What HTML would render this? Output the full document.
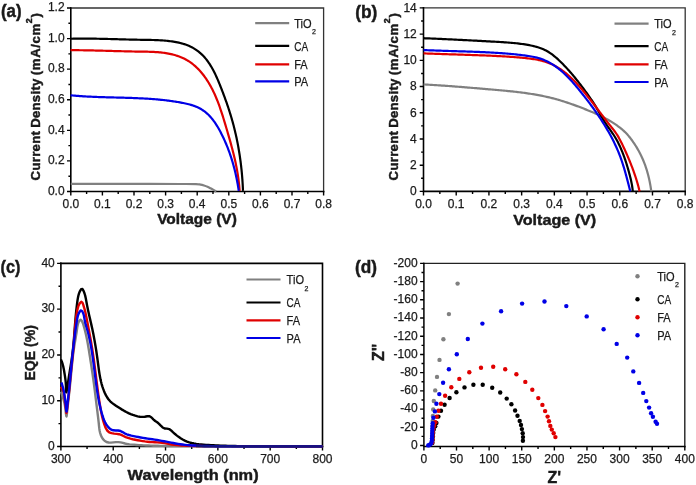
<!DOCTYPE html><html><head><meta charset="utf-8"><style>html,body{margin:0;padding:0;background:#fff;overflow:hidden;}svg{display:block;filter:blur(0.3px);}text{font-family:"Liberation Sans", sans-serif;fill:#1a1a1a;stroke:#1a1a1a;stroke-width:0.25px;}text[font-weight="bold"]{stroke-width:0.45px;}</style></head><body>
<svg width="696" height="485" viewBox="0 0 696 485">
<path d="M70.8,8.0 H323.6 V191.5" fill="none" stroke="#333" stroke-width="1.3" stroke-linecap="square"/>
<path d="M70.8,8.0 V191.5 H323.6" fill="none" stroke="#000" stroke-width="1.6" stroke-linecap="square"/>
<path d="M70.80,191.5 v4 M102.40,191.5 v4 M134.00,191.5 v4 M165.60,191.5 v4 M197.20,191.5 v4 M228.80,191.5 v4 M260.40,191.5 v4 M292.00,191.5 v4 M323.60,191.5 v4 M86.60,191.5 v2.6 M118.20,191.5 v2.6 M149.80,191.5 v2.6 M181.40,191.5 v2.6 M213.00,191.5 v2.6 M244.60,191.5 v2.6 M276.20,191.5 v2.6 M307.80,191.5 v2.6 M70.8,191.50 h-3.8 M70.8,160.92 h-3.8 M70.8,130.33 h-3.8 M70.8,99.75 h-3.8 M70.8,69.17 h-3.8 M70.8,38.58 h-3.8 M70.8,8.00 h-3.8 M70.8,176.21 h-2.4 M70.8,145.62 h-2.4 M70.8,115.04 h-2.4 M70.8,84.46 h-2.4 M70.8,53.88 h-2.4 M70.8,23.29 h-2.4 " fill="none" stroke="#000" stroke-width="1.4"/>
<text x="64.60" y="194.80" font-size="12" text-anchor="end" >0.0</text>
<text x="64.60" y="164.22" font-size="12" text-anchor="end" >0.2</text>
<text x="64.60" y="133.63" font-size="12" text-anchor="end" >0.4</text>
<text x="64.60" y="103.05" font-size="12" text-anchor="end" >0.6</text>
<text x="64.60" y="72.47" font-size="12" text-anchor="end" >0.8</text>
<text x="64.60" y="41.88" font-size="12" text-anchor="end" >1.0</text>
<text x="64.60" y="11.30" font-size="12" text-anchor="end" >1.2</text>
<text x="70.80" y="208.00" font-size="12" text-anchor="middle" >0.0</text>
<text x="102.40" y="208.00" font-size="12" text-anchor="middle" >0.1</text>
<text x="134.00" y="208.00" font-size="12" text-anchor="middle" >0.2</text>
<text x="165.60" y="208.00" font-size="12" text-anchor="middle" >0.3</text>
<text x="197.20" y="208.00" font-size="12" text-anchor="middle" >0.4</text>
<text x="228.80" y="208.00" font-size="12" text-anchor="middle" >0.5</text>
<text x="260.40" y="208.00" font-size="12" text-anchor="middle" >0.6</text>
<text x="292.00" y="208.00" font-size="12" text-anchor="middle" >0.7</text>
<text x="323.60" y="208.00" font-size="12" text-anchor="middle" >0.8</text>
<text x="1.00" y="17.40" font-size="18" text-anchor="start" font-weight="bold" textLength="20.6" lengthAdjust="spacingAndGlyphs">(a)</text>
<text x="197.00" y="224.10" font-size="15.5" text-anchor="middle" font-weight="bold" textLength="79.7" lengthAdjust="spacingAndGlyphs">Voltage (V)</text>
<text transform="translate(40.2,180.40) rotate(-90)" font-size="13.2" font-weight="bold" textLength="49.4" lengthAdjust="spacing">Current</text>
<text transform="translate(40.2,127.80) rotate(-90)" font-size="13.2" font-weight="bold" textLength="49.2" lengthAdjust="spacing">Density</text>
<text transform="translate(40.2,75.20) rotate(-90)" font-size="13.2" font-weight="bold" textLength="62.0" lengthAdjust="spacing">(mA/cm<tspan font-size="9" dy="-8.5">2</tspan><tspan dy="8.5">)</tspan></text>
<path d="M70.80,183.90 C77.33,183.90 96.80,183.90 110.00,183.90 C123.20,183.90 138.33,183.88 150.00,183.90 C161.67,183.92 172.33,183.97 180.00,184.00 C187.67,184.03 192.58,184.00 196.00,184.10 C199.42,184.20 199.17,184.37 200.50,184.60 C201.83,184.83 202.83,185.13 204.00,185.50 C205.17,185.87 206.42,186.33 207.50,186.80 C208.58,187.27 209.50,187.78 210.50,188.30 C211.50,188.82 212.53,189.37 213.50,189.90 C214.47,190.43 215.83,191.23 216.30,191.50" fill="none" stroke="#808080" stroke-width="2.2" stroke-linejoin="round"/>
<path d="M70.60,38.60 L71.93,38.74 L73.36,38.71 L74.79,38.69 L76.22,38.67 L77.64,38.65 L79.06,38.64 L80.48,38.63 L81.89,38.62 L83.31,38.62 L84.72,38.62 L86.13,38.62 L87.54,38.63 L88.95,38.64 L90.36,38.65 L91.76,38.66 L93.17,38.68 L94.57,38.70 L95.97,38.72 L97.37,38.74 L98.77,38.77 L100.17,38.79 L101.57,38.82 L102.96,38.85 L104.36,38.89 L105.76,38.92 L107.15,38.95 L108.55,38.99 L109.95,39.02 L111.34,39.06 L112.74,39.10 L114.13,39.14 L115.53,39.17 L116.92,39.21 L118.32,39.25 L119.72,39.29 L121.12,39.33 L122.51,39.37 L123.91,39.41 L125.31,39.44 L126.71,39.48 L128.12,39.52 L129.52,39.55 L130.92,39.59 L132.33,39.62 L133.73,39.65 L135.14,39.68 L136.55,39.71 L137.96,39.74 L139.38,39.76 L140.79,39.79 L142.21,39.81 L143.63,39.83 L145.05,39.85 L146.47,39.87 L147.89,39.90 L149.32,39.92 L150.74,39.95 L152.16,39.98 L153.59,40.02 L155.01,40.07 L156.43,40.12 L157.85,40.18 L159.27,40.25 L160.69,40.33 L162.10,40.42 L163.52,40.52 L164.93,40.64 L166.34,40.76 L167.75,40.91 L169.15,41.07 L170.55,41.24 L171.95,41.43 L173.34,41.64 L174.73,41.87 L176.11,42.12 L177.49,42.39 L178.86,42.68 L180.22,43.00 L181.57,43.35 L182.91,43.72 L184.23,44.12 L185.54,44.56 L186.83,45.02 L188.11,45.53 L189.37,46.06 L190.60,46.64 L191.82,47.25 L193.01,47.90 L194.18,48.59 L195.33,49.31 L196.45,50.07 L197.55,50.86 L198.63,51.69 L199.68,52.55 L200.70,53.44 L201.70,54.36 L202.68,55.31 L203.63,56.30 L204.55,57.31 L205.44,58.35 L206.31,59.41 L207.15,60.51 L207.97,61.62 L208.77,62.76 L209.55,63.92 L210.30,65.10 L211.04,66.30 L211.75,67.52 L212.45,68.76 L213.13,70.00 L213.80,71.27 L214.44,72.55 L215.07,73.83 L215.69,75.13 L216.30,76.44 L216.89,77.76 L217.47,79.08 L218.04,80.41 L218.60,81.74 L219.15,83.08 L219.69,84.41 L220.23,85.75 L220.76,87.09 L221.28,88.42 L221.80,89.75 L222.31,91.08 L222.82,92.41 L223.32,93.74 L223.82,95.06 L224.31,96.38 L224.79,97.71 L225.27,99.03 L225.75,100.35 L226.22,101.67 L226.68,102.98 L227.14,104.30 L227.59,105.62 L228.03,106.94 L228.47,108.26 L228.90,109.58 L229.33,110.90 L229.75,112.23 L230.17,113.55 L230.57,114.88 L230.98,116.21 L231.37,117.54 L231.76,118.87 L232.14,120.21 L232.52,121.55 L232.89,122.89 L233.25,124.23 L233.61,125.58 L233.96,126.94 L234.30,128.29 L234.64,129.65 L234.97,131.01 L235.29,132.38 L235.61,133.74 L235.92,135.12 L236.22,136.49 L236.52,137.86 L236.81,139.24 L237.09,140.62 L237.37,142.00 L237.64,143.39 L237.90,144.77 L238.16,146.16 L238.41,147.55 L238.65,148.94 L238.89,150.34 L239.12,151.73 L239.35,153.12 L239.56,154.52 L239.78,155.92 L239.98,157.32 L240.18,158.72 L240.37,160.11 L240.56,161.51 L240.74,162.92 L240.91,164.32 L241.07,165.72 L241.23,167.12 L241.39,168.52 L241.54,169.92 L241.68,171.32 L241.81,172.72 L241.94,174.12 L242.06,175.52 L242.18,176.92 L242.28,178.31 L242.39,179.71 L242.48,181.11 L242.57,182.50 L242.66,183.89 L242.73,185.28 L242.80,186.67 L242.87,188.06 L242.93,189.45 L243.00,190.90" fill="none" stroke="#000" stroke-width="2.2" stroke-linejoin="round"/>
<path d="M70.60,50.10 L71.85,50.19 L73.19,50.19 L74.53,50.20 L75.88,50.20 L77.21,50.21 L78.55,50.22 L79.88,50.24 L81.21,50.25 L82.54,50.27 L83.87,50.29 L85.20,50.31 L86.52,50.33 L87.85,50.35 L89.17,50.38 L90.49,50.41 L91.81,50.43 L93.12,50.46 L94.44,50.49 L95.76,50.53 L97.07,50.56 L98.38,50.59 L99.70,50.62 L101.01,50.66 L102.32,50.69 L103.63,50.73 L104.94,50.77 L106.25,50.80 L107.56,50.84 L108.87,50.88 L110.18,50.91 L111.50,50.95 L112.81,50.99 L114.12,51.03 L115.43,51.06 L116.74,51.10 L118.05,51.13 L119.37,51.17 L120.68,51.21 L121.99,51.24 L123.31,51.27 L124.63,51.31 L125.95,51.34 L127.26,51.37 L128.58,51.40 L129.91,51.43 L131.23,51.46 L132.56,51.48 L133.88,51.51 L135.21,51.53 L136.54,51.56 L137.87,51.58 L139.21,51.59 L140.54,51.61 L141.88,51.63 L143.22,51.65 L144.56,51.67 L145.90,51.69 L147.24,51.72 L148.58,51.75 L149.92,51.79 L151.26,51.84 L152.60,51.89 L153.94,51.96 L155.27,52.03 L156.60,52.12 L157.93,52.21 L159.26,52.32 L160.58,52.45 L161.90,52.59 L163.21,52.74 L164.52,52.92 L165.83,53.11 L167.13,53.32 L168.42,53.56 L169.71,53.81 L170.99,54.09 L172.27,54.39 L173.54,54.71 L174.80,55.06 L176.06,55.44 L177.30,55.84 L178.54,56.27 L179.76,56.73 L180.97,57.22 L182.17,57.73 L183.36,58.28 L184.53,58.85 L185.69,59.45 L186.82,60.08 L187.94,60.74 L189.04,61.44 L190.13,62.16 L191.19,62.91 L192.23,63.69 L193.25,64.50 L194.25,65.33 L195.23,66.19 L196.19,67.07 L197.13,67.97 L198.05,68.89 L198.95,69.83 L199.83,70.78 L200.70,71.75 L201.54,72.73 L202.36,73.73 L203.17,74.75 L203.96,75.78 L204.73,76.82 L205.49,77.87 L206.22,78.94 L206.94,80.02 L207.65,81.12 L208.34,82.22 L209.01,83.34 L209.67,84.47 L210.32,85.61 L210.95,86.75 L211.57,87.91 L212.17,89.08 L212.77,90.26 L213.34,91.45 L213.91,92.64 L214.47,93.84 L215.01,95.06 L215.54,96.27 L216.06,97.50 L216.57,98.73 L217.08,99.97 L217.57,101.21 L218.05,102.46 L218.52,103.71 L218.99,104.97 L219.45,106.24 L219.90,107.50 L220.34,108.77 L220.77,110.05 L221.20,111.32 L221.62,112.60 L222.04,113.88 L222.45,115.16 L222.86,116.45 L223.26,117.73 L223.65,119.02 L224.05,120.30 L224.44,121.59 L224.82,122.87 L225.20,124.15 L225.58,125.43 L225.96,126.71 L226.34,127.99 L226.71,129.27 L227.09,130.54 L227.46,131.81 L227.83,133.07 L228.20,134.34 L228.57,135.60 L228.93,136.86 L229.29,138.12 L229.65,139.38 L230.01,140.64 L230.36,141.90 L230.71,143.16 L231.06,144.41 L231.40,145.67 L231.74,146.93 L232.08,148.18 L232.41,149.44 L232.73,150.70 L233.06,151.96 L233.37,153.22 L233.69,154.48 L233.99,155.74 L234.29,157.00 L234.59,158.27 L234.88,159.54 L235.17,160.81 L235.44,162.08 L235.72,163.36 L235.98,164.64 L236.24,165.92 L236.49,167.21 L236.74,168.50 L236.98,169.79 L237.21,171.09 L237.43,172.39 L237.64,173.70 L237.85,175.01 L238.05,176.33 L238.24,177.65 L238.42,178.98 L238.59,180.31 L238.76,181.65 L238.91,183.00 L239.05,184.35 L239.19,185.70 L239.31,187.07 L239.43,188.44 L239.53,189.82 L240.00,190.90" fill="none" stroke="#e00000" stroke-width="2.2" stroke-linejoin="round"/>
<path d="M70.60,95.70 L71.82,95.40 L72.94,95.50 L74.05,95.60 L75.16,95.70 L76.28,95.79 L77.40,95.88 L78.52,95.97 L79.63,96.05 L80.75,96.13 L81.87,96.21 L82.99,96.28 L84.11,96.35 L85.23,96.41 L86.36,96.48 L87.48,96.54 L88.60,96.60 L89.73,96.66 L90.85,96.71 L91.98,96.76 L93.10,96.81 L94.23,96.86 L95.35,96.90 L96.48,96.95 L97.61,96.99 L98.73,97.03 L99.86,97.07 L100.99,97.11 L102.12,97.14 L103.25,97.18 L104.38,97.21 L105.51,97.24 L106.64,97.28 L107.77,97.31 L108.90,97.34 L110.03,97.37 L111.16,97.40 L112.29,97.43 L113.42,97.45 L114.55,97.48 L115.69,97.51 L116.82,97.54 L117.95,97.57 L119.08,97.60 L120.21,97.63 L121.35,97.66 L122.48,97.69 L123.61,97.72 L124.74,97.75 L125.88,97.78 L127.01,97.81 L128.14,97.85 L129.27,97.89 L130.40,97.92 L131.54,97.96 L132.67,98.00 L133.80,98.04 L134.93,98.09 L136.06,98.13 L137.19,98.18 L138.33,98.23 L139.46,98.28 L140.59,98.33 L141.72,98.39 L142.85,98.44 L143.98,98.50 L145.11,98.57 L146.24,98.63 L147.36,98.70 L148.49,98.77 L149.62,98.85 L150.75,98.93 L151.88,99.01 L153.00,99.09 L154.13,99.18 L155.26,99.27 L156.38,99.37 L157.51,99.47 L158.63,99.57 L159.75,99.68 L160.88,99.79 L162.00,99.90 L163.12,100.02 L164.24,100.15 L165.37,100.27 L166.49,100.41 L167.61,100.54 L168.72,100.69 L169.84,100.83 L170.96,100.99 L172.08,101.14 L173.19,101.31 L174.31,101.48 L175.42,101.65 L176.54,101.83 L177.65,102.01 L178.76,102.20 L179.87,102.40 L180.99,102.60 L182.09,102.81 L183.20,103.03 L184.31,103.25 L185.41,103.48 L186.51,103.73 L187.61,103.98 L188.69,104.25 L189.77,104.54 L190.85,104.84 L191.91,105.16 L192.97,105.50 L194.01,105.86 L195.05,106.24 L196.07,106.64 L197.07,107.07 L198.07,107.53 L199.04,108.01 L200.01,108.52 L200.95,109.06 L201.88,109.63 L202.79,110.22 L203.69,110.84 L204.57,111.48 L205.43,112.15 L206.28,112.85 L207.11,113.57 L207.92,114.31 L208.71,115.08 L209.49,115.87 L210.25,116.68 L210.99,117.52 L211.71,118.37 L212.42,119.25 L213.12,120.14 L213.80,121.05 L214.46,121.97 L215.12,122.91 L215.75,123.86 L216.38,124.83 L216.99,125.80 L217.59,126.79 L218.18,127.78 L218.75,128.79 L219.32,129.80 L219.87,130.82 L220.41,131.84 L220.95,132.87 L221.47,133.90 L221.99,134.93 L222.50,135.96 L223.00,137.00 L223.49,138.03 L223.97,139.07 L224.44,140.11 L224.91,141.15 L225.37,142.19 L225.82,143.23 L226.26,144.28 L226.69,145.32 L227.12,146.37 L227.54,147.42 L227.95,148.47 L228.35,149.52 L228.74,150.58 L229.13,151.63 L229.51,152.69 L229.89,153.75 L230.25,154.81 L230.61,155.87 L230.96,156.93 L231.31,158.00 L231.65,159.07 L231.98,160.13 L232.30,161.21 L232.62,162.28 L232.93,163.35 L233.23,164.43 L233.53,165.51 L233.82,166.59 L234.11,167.67 L234.39,168.76 L234.66,169.84 L234.93,170.93 L235.19,172.02 L235.44,173.11 L235.69,174.21 L235.93,175.31 L236.17,176.41 L236.40,177.51 L236.63,178.61 L236.85,179.72 L237.06,180.82 L237.27,181.94 L237.48,183.05 L237.68,184.16 L237.87,185.28 L238.06,186.40 L238.24,187.52 L238.42,188.65 L238.60,189.78 L238.70,190.90" fill="none" stroke="#0000e6" stroke-width="2.2" stroke-linejoin="round"/>
<line x1="255.2" y1="23.2" x2="289.2" y2="23.2" stroke="#808080" stroke-width="2.2"/>
<text x="294.2" y="27.90" font-size="12.4" textLength="17.4" lengthAdjust="spacingAndGlyphs">TiO</text>
<text x="312.00" y="34.20" font-size="7">2</text>
<line x1="255.2" y1="45.8" x2="289.2" y2="45.8" stroke="#000" stroke-width="2.2"/>
<text x="294.2" y="50.50" font-size="12.4" textLength="13.9" lengthAdjust="spacingAndGlyphs">CA</text>
<line x1="255.2" y1="64.4" x2="289.2" y2="64.4" stroke="#e00000" stroke-width="2.2"/>
<text x="294.2" y="69.10" font-size="12.4" textLength="13.5" lengthAdjust="spacingAndGlyphs">FA</text>
<line x1="255.2" y1="81.4" x2="289.2" y2="81.4" stroke="#0000e6" stroke-width="2.2"/>
<text x="294.2" y="86.10" font-size="12.4" textLength="13.9" lengthAdjust="spacingAndGlyphs">PA</text>
<path d="M423.5,7.9 H685.2 V191.4" fill="none" stroke="#333" stroke-width="1.3" stroke-linecap="square"/>
<path d="M423.5,7.9 V191.4 H685.2" fill="none" stroke="#000" stroke-width="1.6" stroke-linecap="square"/>
<path d="M423.50,191.4 v4 M456.21,191.4 v4 M488.93,191.4 v4 M521.64,191.4 v4 M554.35,191.4 v4 M587.06,191.4 v4 M619.78,191.4 v4 M652.49,191.4 v4 M685.20,191.4 v4 M439.86,191.4 v2.6 M472.57,191.4 v2.6 M505.28,191.4 v2.6 M537.99,191.4 v2.6 M570.71,191.4 v2.6 M603.42,191.4 v2.6 M636.13,191.4 v2.6 M668.84,191.4 v2.6 M423.5,191.40 h-3.8 M423.5,165.19 h-3.8 M423.5,138.97 h-3.8 M423.5,112.76 h-3.8 M423.5,86.54 h-3.8 M423.5,60.33 h-3.8 M423.5,34.11 h-3.8 M423.5,7.90 h-3.8 M423.5,178.29 h-2.4 M423.5,152.08 h-2.4 M423.5,125.86 h-2.4 M423.5,99.65 h-2.4 M423.5,73.44 h-2.4 M423.5,47.22 h-2.4 M423.5,21.01 h-2.4 " fill="none" stroke="#000" stroke-width="1.4"/>
<text x="416.80" y="195.20" font-size="12" text-anchor="end" >0</text>
<text x="416.80" y="168.99" font-size="12" text-anchor="end" >2</text>
<text x="416.80" y="142.77" font-size="12" text-anchor="end" >4</text>
<text x="416.80" y="116.56" font-size="12" text-anchor="end" >6</text>
<text x="416.80" y="90.34" font-size="12" text-anchor="end" >8</text>
<text x="416.80" y="64.13" font-size="12" text-anchor="end" >10</text>
<text x="416.80" y="37.91" font-size="12" text-anchor="end" >12</text>
<text x="416.80" y="11.70" font-size="12" text-anchor="end" >14</text>
<text x="423.50" y="208.00" font-size="12" text-anchor="middle" >0.0</text>
<text x="456.21" y="208.00" font-size="12" text-anchor="middle" >0.1</text>
<text x="488.93" y="208.00" font-size="12" text-anchor="middle" >0.2</text>
<text x="521.64" y="208.00" font-size="12" text-anchor="middle" >0.3</text>
<text x="554.35" y="208.00" font-size="12" text-anchor="middle" >0.4</text>
<text x="587.06" y="208.00" font-size="12" text-anchor="middle" >0.5</text>
<text x="619.78" y="208.00" font-size="12" text-anchor="middle" >0.6</text>
<text x="652.49" y="208.00" font-size="12" text-anchor="middle" >0.7</text>
<text x="685.20" y="208.00" font-size="12" text-anchor="middle" >0.8</text>
<text x="355.20" y="17.80" font-size="18" text-anchor="start" font-weight="bold" textLength="22.2" lengthAdjust="spacingAndGlyphs">(b)</text>
<text x="554.70" y="225.20" font-size="15.5" text-anchor="middle" font-weight="bold" textLength="83" lengthAdjust="spacingAndGlyphs">Voltage (V)</text>
<text transform="translate(398.0,180.40) rotate(-90)" font-size="13.2" font-weight="bold" textLength="49.4" lengthAdjust="spacing">Current</text>
<text transform="translate(398.0,127.80) rotate(-90)" font-size="13.2" font-weight="bold" textLength="49.2" lengthAdjust="spacing">Density</text>
<text transform="translate(398.0,75.20) rotate(-90)" font-size="13.2" font-weight="bold" textLength="62.0" lengthAdjust="spacing">(mA/cm<tspan font-size="9" dy="-8.5">2</tspan><tspan dy="8.5">)</tspan></text>
<path d="M423.60,84.40 L424.97,84.52 L426.36,84.59 L427.76,84.67 L429.15,84.75 L430.54,84.83 L431.93,84.91 L433.32,85.00 L434.71,85.08 L436.10,85.17 L437.49,85.26 L438.87,85.35 L440.26,85.44 L441.65,85.53 L443.04,85.63 L444.42,85.72 L445.81,85.82 L447.20,85.92 L448.58,86.02 L449.97,86.12 L451.35,86.22 L452.74,86.33 L454.12,86.43 L455.51,86.54 L456.89,86.64 L458.28,86.75 L459.66,86.86 L461.04,86.97 L462.43,87.08 L463.81,87.19 L465.20,87.30 L466.58,87.41 L467.96,87.53 L469.35,87.64 L470.73,87.75 L472.11,87.87 L473.50,87.98 L474.88,88.10 L476.27,88.22 L477.65,88.33 L479.04,88.45 L480.42,88.57 L481.80,88.69 L483.19,88.81 L484.57,88.92 L485.96,89.04 L487.34,89.16 L488.73,89.28 L490.12,89.40 L491.50,89.52 L492.89,89.64 L494.28,89.76 L495.66,89.88 L497.05,90.00 L498.44,90.13 L499.82,90.25 L501.21,90.38 L502.60,90.50 L503.98,90.63 L505.37,90.77 L506.76,90.90 L508.14,91.04 L509.53,91.18 L510.91,91.32 L512.30,91.46 L513.68,91.61 L515.06,91.77 L516.45,91.92 L517.83,92.09 L519.21,92.25 L520.59,92.42 L521.97,92.60 L523.35,92.78 L524.72,92.96 L526.10,93.15 L527.48,93.35 L528.85,93.55 L530.22,93.76 L531.59,93.97 L532.96,94.20 L534.33,94.42 L535.70,94.66 L537.06,94.90 L538.43,95.15 L539.79,95.41 L541.15,95.67 L542.51,95.94 L543.86,96.23 L545.22,96.51 L546.57,96.81 L547.92,97.12 L549.27,97.44 L550.62,97.76 L551.96,98.10 L553.31,98.44 L554.65,98.80 L555.99,99.16 L557.32,99.54 L558.66,99.92 L559.99,100.31 L561.32,100.71 L562.64,101.12 L563.97,101.54 L565.29,101.96 L566.62,102.40 L567.93,102.84 L569.25,103.28 L570.57,103.74 L571.88,104.20 L573.19,104.66 L574.50,105.14 L575.81,105.62 L577.12,106.10 L578.42,106.59 L579.73,107.08 L581.03,107.58 L582.33,108.09 L583.63,108.60 L584.93,109.11 L586.22,109.63 L587.51,110.15 L588.80,110.67 L590.09,111.21 L591.38,111.74 L592.66,112.29 L593.94,112.84 L595.21,113.40 L596.48,113.97 L597.74,114.54 L599.00,115.13 L600.25,115.73 L601.50,116.34 L602.74,116.95 L603.97,117.58 L605.20,118.23 L606.42,118.88 L607.63,119.55 L608.83,120.23 L610.03,120.93 L611.21,121.64 L612.38,122.37 L613.55,123.12 L614.70,123.88 L615.85,124.66 L616.98,125.45 L618.10,126.27 L619.21,127.10 L620.31,127.95 L621.39,128.83 L622.46,129.72 L623.50,130.64 L624.52,131.59 L625.52,132.56 L626.48,133.56 L627.42,134.58 L628.33,135.63 L629.22,136.70 L630.08,137.79 L630.92,138.89 L631.75,140.01 L632.56,141.13 L633.36,142.27 L634.14,143.43 L634.91,144.59 L635.66,145.76 L636.39,146.94 L637.10,148.13 L637.80,149.33 L638.49,150.54 L639.15,151.76 L639.80,152.99 L640.43,154.23 L641.04,155.48 L641.64,156.73 L642.22,158.00 L642.78,159.27 L643.32,160.54 L643.85,161.83 L644.35,163.12 L644.84,164.42 L645.32,165.73 L645.77,167.04 L646.21,168.36 L646.63,169.68 L647.04,171.01 L647.42,172.35 L647.80,173.68 L648.15,175.03 L648.50,176.38 L648.82,177.73 L649.13,179.08 L649.43,180.44 L649.71,181.80 L649.98,183.17 L650.23,184.54 L650.47,185.91 L650.69,187.28 L650.90,188.65 L651.10,190.02 L651.30,191.40" fill="none" stroke="#808080" stroke-width="2.2" stroke-linejoin="round"/>
<path d="M423.60,38.20 L425.07,38.28 L426.54,38.34 L428.01,38.40 L429.48,38.46 L430.95,38.52 L432.42,38.58 L433.89,38.64 L435.36,38.70 L436.83,38.77 L438.30,38.83 L439.78,38.90 L441.25,38.96 L442.72,39.03 L444.19,39.10 L445.66,39.16 L447.13,39.23 L448.60,39.30 L450.07,39.37 L451.54,39.44 L453.01,39.51 L454.48,39.59 L455.95,39.66 L457.42,39.73 L458.89,39.80 L460.36,39.88 L461.84,39.95 L463.31,40.03 L464.78,40.10 L466.25,40.18 L467.72,40.26 L469.19,40.33 L470.66,40.41 L472.13,40.49 L473.60,40.57 L475.07,40.65 L476.54,40.72 L478.01,40.80 L479.48,40.88 L480.95,40.96 L482.42,41.04 L483.89,41.12 L485.36,41.20 L486.83,41.28 L488.30,41.36 L489.77,41.45 L491.24,41.53 L492.71,41.61 L494.17,41.69 L495.64,41.77 L497.11,41.85 L498.58,41.94 L500.05,42.02 L501.52,42.11 L502.98,42.20 L504.45,42.30 L505.92,42.40 L507.39,42.50 L508.85,42.61 L510.32,42.73 L511.78,42.86 L513.25,42.99 L514.71,43.13 L516.17,43.28 L517.64,43.45 L519.10,43.62 L520.56,43.80 L522.02,44.00 L523.48,44.21 L524.94,44.43 L526.40,44.67 L527.85,44.92 L529.31,45.19 L530.76,45.48 L532.21,45.79 L533.66,46.11 L535.09,46.47 L536.52,46.85 L537.93,47.26 L539.33,47.71 L540.72,48.19 L542.08,48.72 L543.42,49.29 L544.74,49.90 L546.03,50.56 L547.30,51.26 L548.55,52.01 L549.77,52.80 L550.97,53.62 L552.16,54.48 L553.32,55.37 L554.46,56.29 L555.59,57.23 L556.70,58.20 L557.80,59.19 L558.89,60.19 L559.96,61.22 L561.02,62.25 L562.06,63.29 L563.10,64.34 L564.13,65.40 L565.15,66.47 L566.16,67.54 L567.16,68.63 L568.15,69.72 L569.14,70.82 L570.11,71.92 L571.08,73.03 L572.03,74.15 L572.98,75.28 L573.93,76.41 L574.86,77.55 L575.79,78.69 L576.71,79.84 L577.63,80.99 L578.54,82.15 L579.44,83.31 L580.34,84.48 L581.23,85.65 L582.12,86.82 L583.00,88.00 L583.88,89.18 L584.75,90.37 L585.62,91.56 L586.48,92.75 L587.34,93.94 L588.20,95.13 L589.05,96.33 L589.89,97.54 L590.72,98.75 L591.55,99.96 L592.36,101.19 L593.17,102.41 L593.96,103.65 L594.74,104.89 L595.51,106.15 L596.26,107.41 L597.00,108.68 L597.73,109.95 L598.45,111.24 L599.17,112.52 L599.89,113.81 L600.61,115.09 L601.33,116.37 L602.07,117.65 L602.81,118.91 L603.57,120.17 L604.35,121.42 L605.15,122.66 L605.97,123.88 L606.80,125.10 L607.65,126.30 L608.50,127.51 L609.35,128.71 L610.21,129.91 L611.06,131.11 L611.90,132.32 L612.73,133.53 L613.55,134.75 L614.34,135.98 L615.12,137.23 L615.86,138.48 L616.59,139.75 L617.29,141.04 L617.97,142.33 L618.63,143.64 L619.27,144.96 L619.89,146.28 L620.50,147.62 L621.08,148.97 L621.65,150.32 L622.21,151.68 L622.75,153.05 L623.27,154.43 L623.78,155.81 L624.29,157.19 L624.77,158.58 L625.25,159.98 L625.72,161.38 L626.17,162.79 L626.62,164.19 L627.05,165.60 L627.48,167.02 L627.89,168.43 L628.30,169.85 L628.70,171.27 L629.09,172.69 L629.47,174.11 L629.85,175.53 L630.21,176.95 L630.56,178.37 L630.89,179.80 L631.21,181.23 L631.51,182.67 L631.79,184.10 L632.04,185.55 L632.27,187.00 L632.47,188.46 L632.64,189.92 L632.80,191.40" fill="none" stroke="#000" stroke-width="2.2" stroke-linejoin="round"/>
<path d="M423.60,53.40 L425.05,53.43 L426.49,53.49 L427.93,53.54 L429.38,53.60 L430.82,53.66 L432.26,53.71 L433.71,53.76 L435.15,53.81 L436.59,53.86 L438.04,53.92 L439.48,53.96 L440.92,54.01 L442.37,54.06 L443.81,54.11 L445.26,54.16 L446.70,54.20 L448.15,54.25 L449.59,54.29 L451.03,54.34 L452.48,54.38 L453.92,54.43 L455.37,54.47 L456.81,54.52 L458.26,54.56 L459.70,54.61 L461.14,54.65 L462.59,54.70 L464.03,54.75 L465.48,54.79 L466.92,54.84 L468.37,54.89 L469.81,54.93 L471.25,54.98 L472.70,55.03 L474.14,55.08 L475.59,55.13 L477.03,55.18 L478.47,55.24 L479.92,55.29 L481.36,55.34 L482.81,55.40 L484.25,55.46 L485.69,55.52 L487.14,55.57 L488.58,55.64 L490.02,55.70 L491.47,55.76 L492.91,55.83 L494.35,55.90 L495.79,55.96 L497.24,56.04 L498.68,56.11 L500.12,56.19 L501.56,56.26 L503.00,56.35 L504.45,56.43 L505.89,56.52 L507.33,56.61 L508.77,56.70 L510.21,56.80 L511.65,56.90 L513.09,57.01 L514.53,57.12 L515.97,57.23 L517.41,57.35 L518.85,57.47 L520.29,57.60 L521.73,57.73 L523.17,57.86 L524.61,58.01 L526.05,58.15 L527.49,58.31 L528.93,58.47 L530.36,58.65 L531.79,58.84 L533.22,59.04 L534.65,59.26 L536.07,59.50 L537.49,59.77 L538.90,60.05 L540.31,60.37 L541.70,60.70 L543.10,61.07 L544.48,61.47 L545.86,61.90 L547.22,62.37 L548.57,62.87 L549.91,63.41 L551.24,63.99 L552.55,64.60 L553.84,65.25 L555.12,65.93 L556.38,66.64 L557.62,67.38 L558.84,68.14 L560.05,68.93 L561.24,69.74 L562.41,70.57 L563.57,71.43 L564.70,72.30 L565.83,73.20 L566.94,74.12 L568.03,75.05 L569.11,76.00 L570.17,76.97 L571.23,77.96 L572.27,78.96 L573.30,79.98 L574.31,81.00 L575.32,82.05 L576.31,83.10 L577.30,84.16 L578.27,85.23 L579.24,86.32 L580.20,87.41 L581.14,88.50 L582.09,89.61 L583.02,90.72 L583.95,91.83 L584.87,92.95 L585.79,94.07 L586.70,95.19 L587.60,96.32 L588.50,97.45 L589.40,98.57 L590.30,99.71 L591.19,100.84 L592.07,101.97 L592.95,103.11 L593.83,104.25 L594.71,105.39 L595.59,106.54 L596.46,107.68 L597.33,108.83 L598.20,109.99 L599.07,111.14 L599.93,112.30 L600.80,113.46 L601.67,114.61 L602.54,115.77 L603.41,116.93 L604.28,118.08 L605.16,119.23 L606.03,120.38 L606.92,121.52 L607.81,122.66 L608.70,123.79 L609.60,124.92 L610.50,126.03 L611.41,127.14 L612.31,128.25 L613.21,129.37 L614.08,130.50 L614.94,131.64 L615.77,132.80 L616.57,133.99 L617.33,135.19 L618.07,136.42 L618.79,137.66 L619.48,138.92 L620.16,140.20 L620.82,141.48 L621.46,142.77 L622.10,144.07 L622.74,145.37 L623.36,146.68 L623.97,147.99 L624.58,149.30 L625.18,150.62 L625.77,151.94 L626.36,153.27 L626.94,154.60 L627.51,155.93 L628.08,157.26 L628.64,158.59 L629.20,159.93 L629.74,161.26 L630.29,162.60 L630.82,163.94 L631.35,165.29 L631.87,166.63 L632.38,167.98 L632.88,169.33 L633.38,170.69 L633.87,172.04 L634.34,173.40 L634.81,174.77 L635.27,176.13 L635.72,177.50 L636.16,178.88 L636.59,180.26 L637.01,181.64 L637.42,183.02 L637.81,184.41 L638.20,185.81 L638.57,187.21 L638.93,188.61 L639.28,190.02 L639.70,191.40" fill="none" stroke="#e00000" stroke-width="2.2" stroke-linejoin="round"/>
<path d="M423.60,50.10 L425.03,50.12 L426.44,50.18 L427.86,50.24 L429.28,50.30 L430.70,50.36 L432.12,50.41 L433.54,50.46 L434.96,50.52 L436.38,50.57 L437.80,50.62 L439.22,50.66 L440.64,50.71 L442.06,50.76 L443.48,50.80 L444.90,50.85 L446.32,50.89 L447.74,50.94 L449.16,50.98 L450.59,51.02 L452.01,51.06 L453.43,51.11 L454.85,51.15 L456.27,51.19 L457.69,51.24 L459.11,51.28 L460.53,51.32 L461.96,51.37 L463.38,51.41 L464.80,51.46 L466.22,51.50 L467.64,51.55 L469.06,51.60 L470.48,51.65 L471.90,51.70 L473.32,51.75 L474.74,51.80 L476.16,51.85 L477.58,51.91 L479.00,51.97 L480.42,52.03 L481.84,52.09 L483.26,52.15 L484.68,52.21 L486.10,52.28 L487.52,52.35 L488.94,52.42 L490.35,52.50 L491.77,52.57 L493.19,52.65 L494.61,52.74 L496.03,52.82 L497.44,52.91 L498.86,53.00 L500.28,53.10 L501.69,53.20 L503.11,53.30 L504.52,53.41 L505.94,53.52 L507.36,53.63 L508.77,53.75 L510.19,53.88 L511.60,54.01 L513.02,54.14 L514.43,54.28 L515.85,54.43 L517.26,54.58 L518.68,54.73 L520.09,54.90 L521.50,55.06 L522.92,55.24 L524.33,55.42 L525.75,55.60 L527.16,55.80 L528.57,56.01 L529.98,56.23 L531.38,56.47 L532.78,56.73 L534.17,57.01 L535.55,57.31 L536.93,57.65 L538.29,58.02 L539.65,58.42 L540.99,58.86 L542.32,59.33 L543.63,59.85 L544.93,60.40 L546.22,60.98 L547.49,61.60 L548.75,62.25 L549.99,62.93 L551.22,63.64 L552.43,64.38 L553.63,65.14 L554.80,65.93 L555.97,66.74 L557.11,67.58 L558.24,68.43 L559.35,69.30 L560.45,70.20 L561.53,71.11 L562.59,72.04 L563.64,72.99 L564.68,73.95 L565.71,74.93 L566.72,75.92 L567.72,76.92 L568.71,77.94 L569.69,78.97 L570.66,80.01 L571.62,81.06 L572.57,82.13 L573.51,83.20 L574.45,84.27 L575.38,85.36 L576.30,86.45 L577.21,87.55 L578.12,88.65 L579.02,89.75 L579.92,90.86 L580.82,91.97 L581.71,93.09 L582.60,94.20 L583.48,95.32 L584.36,96.44 L585.24,97.56 L586.11,98.68 L586.97,99.81 L587.84,100.94 L588.70,102.07 L589.55,103.20 L590.40,104.34 L591.24,105.48 L592.08,106.63 L592.92,107.77 L593.75,108.92 L594.57,110.08 L595.39,111.24 L596.20,112.40 L597.01,113.56 L597.81,114.73 L598.61,115.91 L599.40,117.08 L600.18,118.27 L600.96,119.45 L601.73,120.64 L602.50,121.84 L603.26,123.04 L604.01,124.24 L604.75,125.45 L605.49,126.66 L606.22,127.88 L606.95,129.10 L607.66,130.33 L608.37,131.57 L609.07,132.80 L609.76,134.04 L610.44,135.29 L611.11,136.54 L611.78,137.80 L612.43,139.06 L613.08,140.33 L613.71,141.60 L614.33,142.87 L614.95,144.16 L615.55,145.44 L616.14,146.73 L616.72,148.03 L617.29,149.33 L617.85,150.64 L618.39,151.95 L618.93,153.26 L619.45,154.58 L619.96,155.91 L620.45,157.24 L620.94,158.58 L621.41,159.92 L621.87,161.26 L622.32,162.61 L622.76,163.97 L623.19,165.32 L623.61,166.68 L624.02,168.04 L624.43,169.41 L624.83,170.78 L625.22,172.15 L625.60,173.52 L625.98,174.89 L626.36,176.26 L626.73,177.64 L627.09,179.01 L627.45,180.39 L627.81,181.76 L628.17,183.13 L628.53,184.51 L628.88,185.88 L629.24,187.25 L629.59,188.62 L629.94,189.99 L630.20,191.40" fill="none" stroke="#0000e6" stroke-width="2.2" stroke-linejoin="round"/>
<line x1="614.5" y1="23.6" x2="648.6" y2="23.6" stroke="#808080" stroke-width="2.2"/>
<text x="654.2" y="28.30" font-size="12.4" textLength="17.4" lengthAdjust="spacingAndGlyphs">TiO</text>
<text x="672.00" y="34.60" font-size="7">2</text>
<line x1="614.5" y1="46.2" x2="648.6" y2="46.2" stroke="#000" stroke-width="2.2"/>
<text x="654.2" y="50.90" font-size="12.4" textLength="13.9" lengthAdjust="spacingAndGlyphs">CA</text>
<line x1="614.5" y1="64.4" x2="648.6" y2="64.4" stroke="#e00000" stroke-width="2.2"/>
<text x="654.2" y="69.10" font-size="12.4" textLength="13.5" lengthAdjust="spacingAndGlyphs">FA</text>
<line x1="614.5" y1="82" x2="648.6" y2="82" stroke="#0000e6" stroke-width="2.2"/>
<text x="654.2" y="86.70" font-size="12.4" textLength="13.9" lengthAdjust="spacingAndGlyphs">PA</text>
<path d="M60.9,263.4 H322.5 V446.5" fill="none" stroke="#000" stroke-width="1.6" stroke-linecap="square"/>
<path d="M60.9,263.4 V446.5 H322.5" fill="none" stroke="#000" stroke-width="1.6" stroke-linecap="square"/>
<path d="M60.90,446.5 v4 M113.22,446.5 v4 M165.54,446.5 v4 M217.86,446.5 v4 M270.18,446.5 v4 M322.50,446.5 v4 M87.06,446.5 v2.6 M139.38,446.5 v2.6 M191.70,446.5 v2.6 M244.02,446.5 v2.6 M296.34,446.5 v2.6 M60.9,446.50 h-3.8 M60.9,400.73 h-3.8 M60.9,354.95 h-3.8 M60.9,309.17 h-3.8 M60.9,263.40 h-3.8 M60.9,423.61 h-2.4 M60.9,377.84 h-2.4 M60.9,332.06 h-2.4 M60.9,286.29 h-2.4 " fill="none" stroke="#000" stroke-width="1.4"/>
<text x="54.80" y="449.80" font-size="12" text-anchor="end" >0</text>
<text x="54.80" y="404.03" font-size="12" text-anchor="end" >10</text>
<text x="54.80" y="358.25" font-size="12" text-anchor="end" >20</text>
<text x="54.80" y="312.47" font-size="12" text-anchor="end" >30</text>
<text x="54.80" y="266.70" font-size="12" text-anchor="end" >40</text>
<text x="60.90" y="462.60" font-size="12" text-anchor="middle" >300</text>
<text x="113.22" y="462.60" font-size="12" text-anchor="middle" >400</text>
<text x="165.54" y="462.60" font-size="12" text-anchor="middle" >500</text>
<text x="217.86" y="462.60" font-size="12" text-anchor="middle" >600</text>
<text x="270.18" y="462.60" font-size="12" text-anchor="middle" >700</text>
<text x="322.50" y="462.60" font-size="12" text-anchor="middle" >800</text>
<text x="0.60" y="272.60" font-size="18" text-anchor="start" font-weight="bold" textLength="19.9" lengthAdjust="spacingAndGlyphs">(c)</text>
<text x="193.10" y="480.20" font-size="15.5" text-anchor="middle" font-weight="bold" textLength="131" lengthAdjust="spacingAndGlyphs">Wavelength (nm)</text>
<text transform="translate(35.2,380.6) rotate(-90)" font-size="15.5" font-weight="bold" textLength="55.6" lengthAdjust="spacingAndGlyphs">EQE (%)</text>
<path d="M60.90,391.80 L61.69,393.86 L62.50,396.18 L63.26,398.59 L63.91,400.86 L64.43,402.95 L64.84,405.05 L65.20,407.37 L65.54,410.13 L65.89,413.31 L66.24,415.84 L66.56,416.39 L66.85,414.45 L67.12,411.62 L67.39,409.13 L67.65,406.82 L67.92,404.51 L68.18,402.20 L68.44,399.89 L68.70,397.56 L68.96,395.24 L69.22,392.91 L69.47,390.57 L69.71,388.23 L69.96,385.89 L70.20,383.55 L70.43,381.20 L70.66,378.86 L70.88,376.51 L71.10,374.16 L71.32,371.81 L71.54,369.46 L71.76,367.11 L71.99,364.76 L72.23,362.42 L72.47,360.08 L72.73,357.74 L73.00,355.41 L73.29,353.09 L73.60,350.77 L73.93,348.46 L74.28,346.15 L74.65,343.85 L75.04,341.55 L75.43,339.25 L75.82,336.92 L76.21,334.58 L76.58,332.21 L76.93,329.80 L77.28,327.38 L77.73,325.02 L78.36,322.79 L79.28,320.79 L80.57,319.69 L82.00,321.17 L82.99,323.41 L83.72,325.82 L84.37,328.20 L84.97,330.51 L85.53,332.78 L86.05,335.04 L86.54,337.29 L87.00,339.56 L87.44,341.85 L87.86,344.15 L88.27,346.47 L88.66,348.80 L89.04,351.14 L89.41,353.48 L89.78,355.81 L90.14,358.14 L90.51,360.47 L90.87,362.79 L91.23,365.12 L91.58,367.44 L91.93,369.76 L92.27,372.08 L92.61,374.40 L92.94,376.73 L93.27,379.05 L93.58,381.38 L93.90,383.71 L94.20,386.05 L94.50,388.38 L94.80,390.72 L95.09,393.06 L95.38,395.40 L95.67,397.74 L95.96,400.07 L96.24,402.41 L96.53,404.74 L96.82,407.07 L97.11,409.40 L97.40,411.72 L97.69,414.05 L97.97,416.37 L98.25,418.70 L98.52,421.04 L98.77,423.39 L99.01,425.76 L99.26,428.13 L99.60,430.47 L100.09,432.77 L100.77,435.00 L101.72,437.12 L102.99,439.11 L104.58,440.80 L106.47,441.98 L108.62,442.52 L110.98,442.58 L113.44,442.39 L115.92,442.16 L118.34,442.11 L120.64,442.41 L122.86,442.93 L125.05,443.53 L127.29,444.06 L129.61,444.40 L131.97,444.62 L134.34,444.81 L136.70,444.98 L139.06,445.13 L141.42,445.26 L143.77,445.38 L146.13,445.48 L148.48,445.57 L150.83,445.65 L153.18,445.71 L155.53,445.77 L157.88,445.82 L160.22,445.86 L162.57,445.90 L164.92,445.93 L167.27,445.96 L169.62,445.99 L171.97,446.01 L174.32,446.03 L176.67,446.05 L179.02,446.06 L181.37,446.07 L183.72,446.08 L186.07,446.09 L188.43,446.10 L190.78,446.10 L193.13,446.11 L195.48,446.11 L197.84,446.11 L200.19,446.11 L202.54,446.11 L204.89,446.11 L207.25,446.11 L209.60,446.10 L211.95,446.10 L214.31,446.10 L216.66,446.10 L219.01,446.10 L221.36,446.10 L223.72,446.10 L226.07,446.11 L228.42,446.11 L230.77,446.11 L233.13,446.11 L235.48,446.12 L237.83,446.12 L240.18,446.13 L242.53,446.13 L244.89,446.14 L247.24,446.14 L249.59,446.15 L251.94,446.15 L254.29,446.16 L256.64,446.17 L259.00,446.17 L261.35,446.18 L263.70,446.19 L266.05,446.19 L268.40,446.20 L270.75,446.21 L273.11,446.21 L275.46,446.22 L277.81,446.23 L280.16,446.23 L282.51,446.24 L284.87,446.24 L287.22,446.25 L289.57,446.25 L291.92,446.26 L294.27,446.26 L296.63,446.27 L298.98,446.27 L301.33,446.27 L303.68,446.28 L306.03,446.28 L308.39,446.28 L310.74,446.28 L313.09,446.28 L315.44,446.28 L317.80,446.28 L320.15,446.28 L322.50,446.30" fill="none" stroke="#808080" stroke-width="2.4" stroke-linejoin="round"/>
<path d="M60.90,359.40 L61.83,361.67 L62.58,363.97 L63.20,366.30 L63.71,368.65 L64.14,371.04 L64.54,373.47 L64.92,375.92 L65.27,378.34 L65.57,380.66 L65.78,382.89 L65.92,385.33 L65.97,388.39 L66.03,391.35 L66.32,392.34 L66.91,390.42 L67.46,387.51 L67.79,384.97 L68.07,382.61 L68.37,380.24 L68.71,377.87 L69.07,375.49 L69.46,373.10 L69.85,370.71 L70.25,368.32 L70.65,365.92 L71.04,363.52 L71.42,361.11 L71.78,358.71 L72.11,356.30 L72.42,353.89 L72.71,351.48 L72.98,349.06 L73.23,346.65 L73.46,344.24 L73.68,341.82 L73.88,339.41 L74.08,336.99 L74.27,334.58 L74.45,332.16 L74.64,329.74 L74.82,327.33 L75.00,324.91 L75.19,322.50 L75.39,320.08 L75.59,317.66 L75.80,315.25 L76.03,312.83 L76.28,310.42 L76.54,308.01 L76.82,305.60 L77.13,303.18 L77.45,300.77 L77.82,298.37 L78.29,295.97 L78.95,293.61 L79.87,291.29 L81.13,289.12 L82.49,288.97 L83.66,291.13 L84.56,293.50 L85.24,295.87 L85.77,298.25 L86.21,300.64 L86.63,303.02 L87.08,305.40 L87.56,307.78 L88.06,310.15 L88.58,312.52 L89.11,314.89 L89.65,317.26 L90.19,319.62 L90.74,321.99 L91.28,324.36 L91.81,326.73 L92.32,329.10 L92.82,331.47 L93.30,333.85 L93.76,336.22 L94.21,338.61 L94.64,340.99 L95.06,343.38 L95.46,345.77 L95.85,348.16 L96.23,350.56 L96.59,352.96 L96.94,355.36 L97.27,357.76 L97.60,360.17 L97.92,362.58 L98.23,364.99 L98.55,367.40 L98.88,369.81 L99.23,372.21 L99.61,374.61 L100.04,376.99 L100.51,379.36 L101.05,381.72 L101.65,384.05 L102.33,386.37 L103.10,388.66 L103.96,390.93 L104.93,393.17 L106.01,395.37 L107.24,397.49 L108.63,399.47 L110.21,401.28 L111.99,402.88 L113.91,404.34 L115.92,405.70 L117.95,407.03 L120.00,408.34 L122.06,409.61 L124.15,410.83 L126.28,411.99 L128.45,413.07 L130.66,414.06 L132.93,414.95 L135.25,415.71 L137.60,416.31 L139.98,416.71 L142.36,416.88 L144.78,416.73 L147.26,416.26 L149.58,416.26 L151.54,417.49 L153.32,419.34 L155.20,420.97 L157.19,422.25 L159.06,423.84 L160.81,425.73 L162.62,427.44 L164.64,428.51 L166.98,428.67 L169.22,429.08 L171.11,430.46 L172.90,432.16 L174.75,433.80 L176.65,435.37 L178.60,436.84 L180.61,438.22 L182.69,439.47 L184.82,440.58 L187.02,441.55 L189.28,442.34 L191.60,442.98 L193.97,443.48 L196.37,443.87 L198.79,444.18 L201.23,444.43 L203.66,444.65 L206.09,444.84 L208.51,445.00 L210.94,445.15 L213.36,445.28 L215.78,445.40 L218.20,445.51 L220.62,445.61 L223.04,445.70 L225.46,445.78 L227.88,445.85 L230.31,445.92 L232.73,445.98 L235.15,446.04 L237.58,446.08 L240.00,446.12 L242.43,446.16 L244.85,446.19 L247.28,446.22 L249.70,446.24 L252.13,446.26 L254.55,446.27 L256.98,446.28 L259.41,446.29 L261.84,446.29 L264.26,446.29 L266.69,446.29 L269.12,446.29 L271.54,446.28 L273.97,446.28 L276.40,446.27 L278.83,446.26 L281.25,446.26 L283.68,446.25 L286.11,446.24 L288.54,446.23 L290.96,446.23 L293.39,446.22 L295.82,446.22 L298.24,446.22 L300.67,446.22 L303.10,446.22 L305.52,446.23 L307.95,446.24 L310.37,446.25 L312.80,446.27 L315.22,446.29 L317.64,446.32 L320.07,446.35 L322.50,446.30" fill="none" stroke="#000" stroke-width="2.4" stroke-linejoin="round"/>
<path d="M60.90,386.80 L62.29,388.93 L63.27,391.17 L63.95,393.50 L64.40,395.89 L64.70,398.32 L64.93,400.78 L65.17,403.26 L65.50,405.73 L65.90,408.28 L66.22,411.08 L66.46,412.98 L66.73,412.06 L67.03,409.39 L67.34,406.64 L67.64,404.02 L67.94,401.51 L68.23,399.07 L68.52,396.67 L68.79,394.29 L69.05,391.89 L69.29,389.46 L69.52,387.00 L69.75,384.52 L69.98,382.04 L70.21,379.55 L70.45,377.07 L70.69,374.60 L70.95,372.13 L71.21,369.68 L71.47,367.22 L71.73,364.78 L71.99,362.33 L72.25,359.89 L72.51,357.44 L72.76,355.00 L73.00,352.55 L73.24,350.09 L73.46,347.63 L73.67,345.16 L73.87,342.69 L74.06,340.21 L74.25,337.73 L74.44,335.25 L74.64,332.78 L74.84,330.31 L75.04,327.85 L75.27,325.40 L75.50,322.97 L75.76,320.54 L76.04,318.14 L76.34,315.75 L76.69,313.36 L77.13,310.93 L77.70,308.38 L78.50,305.76 L79.68,303.35 L81.26,301.75 L82.47,302.63 L83.31,304.92 L84.04,307.27 L84.70,309.66 L85.29,312.06 L85.83,314.49 L86.34,316.92 L86.82,319.36 L87.29,321.80 L87.76,324.24 L88.23,326.67 L88.69,329.10 L89.15,331.53 L89.60,333.96 L90.05,336.39 L90.49,338.82 L90.92,341.24 L91.34,343.67 L91.75,346.10 L92.15,348.54 L92.53,350.97 L92.90,353.41 L93.26,355.85 L93.61,358.29 L93.95,360.74 L94.28,363.19 L94.61,365.64 L94.92,368.09 L95.24,370.54 L95.55,372.99 L95.85,375.45 L96.16,377.90 L96.47,380.35 L96.78,382.81 L97.10,385.26 L97.42,387.71 L97.74,390.16 L98.08,392.61 L98.42,395.05 L98.78,397.50 L99.14,399.94 L99.52,402.38 L99.91,404.81 L100.32,407.24 L100.75,409.67 L101.20,412.10 L101.69,414.51 L102.22,416.92 L102.82,419.32 L103.48,421.71 L104.23,424.08 L105.07,426.44 L106.07,428.71 L107.38,430.72 L109.16,432.26 L111.53,433.18 L114.14,433.60 L116.62,433.83 L118.97,434.19 L121.23,434.95 L123.46,436.01 L125.72,437.06 L128.03,437.93 L130.40,438.65 L132.80,439.25 L135.21,439.77 L137.64,440.24 L140.07,440.68 L142.51,441.08 L144.95,441.43 L147.40,441.72 L149.85,441.96 L152.32,442.12 L154.79,442.23 L157.26,442.33 L159.73,442.49 L162.18,442.77 L164.61,443.17 L167.04,443.64 L169.47,444.11 L171.90,444.52 L174.35,444.86 L176.80,445.13 L179.26,445.34 L181.72,445.51 L184.19,445.64 L186.66,445.75 L189.13,445.84 L191.59,445.91 L194.06,445.97 L196.53,446.01 L199.00,446.04 L201.47,446.06 L203.94,446.08 L206.41,446.08 L208.88,446.09 L211.35,446.08 L213.82,446.08 L216.29,446.08 L218.76,446.08 L221.23,446.08 L223.70,446.08 L226.17,446.08 L228.64,446.08 L231.11,446.08 L233.58,446.09 L236.05,446.09 L238.52,446.10 L240.99,446.10 L243.46,446.11 L245.93,446.11 L248.40,446.12 L250.87,446.12 L253.34,446.13 L255.81,446.14 L258.28,446.14 L260.75,446.15 L263.22,446.16 L265.69,446.17 L268.16,446.17 L270.63,446.18 L273.10,446.19 L275.57,446.20 L278.04,446.20 L280.51,446.21 L282.98,446.22 L285.45,446.22 L287.92,446.23 L290.39,446.24 L292.86,446.24 L295.33,446.25 L297.80,446.26 L300.27,446.26 L302.74,446.27 L305.21,446.27 L307.68,446.27 L310.15,446.28 L312.62,446.28 L315.09,446.28 L317.56,446.28 L320.03,446.28 L322.50,446.30" fill="none" stroke="#e00000" stroke-width="2.4" stroke-linejoin="round"/>
<path d="M61.40,382.50 L62.16,384.73 L62.83,387.01 L63.40,389.32 L63.89,391.66 L64.30,394.01 L64.67,396.35 L64.99,398.67 L65.28,400.95 L65.56,403.22 L65.83,405.72 L66.08,408.62 L66.32,411.04 L66.60,411.44 L66.90,409.53 L67.21,406.67 L67.50,403.92 L67.78,401.36 L68.05,398.95 L68.31,396.65 L68.56,394.40 L68.81,392.15 L69.06,389.87 L69.30,387.55 L69.54,385.19 L69.77,382.82 L70.01,380.43 L70.24,378.03 L70.47,375.64 L70.70,373.26 L70.93,370.88 L71.15,368.51 L71.38,366.15 L71.61,363.78 L71.85,361.43 L72.08,359.07 L72.32,356.72 L72.56,354.37 L72.81,352.02 L73.06,349.68 L73.32,347.33 L73.59,344.98 L73.86,342.64 L74.14,340.29 L74.43,337.94 L74.73,335.59 L75.04,333.24 L75.37,330.88 L75.70,328.52 L76.04,326.16 L76.40,323.79 L76.78,321.42 L77.17,319.04 L77.64,316.69 L78.31,314.41 L79.30,312.27 L80.67,310.48 L82.11,311.02 L83.18,313.20 L83.87,315.53 L84.33,317.93 L84.71,320.33 L85.16,322.69 L85.79,324.98 L86.49,327.24 L87.17,329.50 L87.80,331.77 L88.40,334.06 L88.96,336.36 L89.48,338.66 L89.97,340.98 L90.44,343.31 L90.87,345.64 L91.28,347.98 L91.67,350.32 L92.04,352.67 L92.40,355.02 L92.74,357.37 L93.06,359.72 L93.38,362.07 L93.69,364.42 L94.00,366.77 L94.30,369.12 L94.59,371.47 L94.89,373.82 L95.19,376.17 L95.49,378.52 L95.79,380.87 L96.10,383.22 L96.41,385.57 L96.74,387.93 L97.08,390.27 L97.43,392.62 L97.80,394.97 L98.20,397.31 L98.62,399.64 L99.07,401.97 L99.55,404.29 L100.06,406.60 L100.61,408.90 L101.21,411.20 L101.85,413.48 L102.53,415.74 L103.28,417.99 L104.12,420.21 L105.10,422.37 L106.27,424.45 L107.65,426.43 L109.28,428.17 L111.17,429.51 L113.34,430.26 L115.74,430.43 L118.18,430.49 L120.48,430.99 L122.56,432.07 L124.60,433.31 L126.75,434.28 L129.02,434.99 L131.32,435.57 L133.64,436.10 L135.97,436.59 L138.30,437.04 L140.63,437.46 L142.97,437.85 L145.31,438.23 L147.65,438.59 L150.00,438.94 L152.34,439.30 L154.68,439.65 L157.02,440.02 L159.36,440.41 L161.69,440.82 L164.01,441.25 L166.34,441.69 L168.66,442.15 L170.98,442.60 L173.30,443.05 L175.63,443.48 L177.96,443.88 L180.29,444.24 L182.64,444.56 L184.99,444.84 L187.35,445.07 L189.71,445.26 L192.08,445.43 L194.45,445.56 L196.82,445.68 L199.19,445.79 L201.56,445.88 L203.93,445.95 L206.30,446.02 L208.67,446.07 L211.04,446.12 L213.41,446.15 L215.78,446.18 L218.15,446.21 L220.53,446.23 L222.90,446.25 L225.27,446.27 L227.64,446.28 L230.01,446.29 L232.38,446.31 L234.75,446.32 L237.12,446.33 L239.50,446.34 L241.87,446.34 L244.24,446.35 L246.61,446.35 L248.98,446.36 L251.35,446.36 L253.72,446.36 L256.10,446.36 L258.47,446.36 L260.84,446.36 L263.21,446.36 L265.58,446.36 L267.95,446.36 L270.33,446.36 L272.70,446.36 L275.07,446.36 L277.44,446.36 L279.81,446.36 L282.18,446.35 L284.56,446.35 L286.93,446.35 L289.30,446.35 L291.67,446.35 L294.04,446.35 L296.41,446.35 L298.79,446.36 L301.16,446.36 L303.53,446.36 L305.90,446.37 L308.27,446.37 L310.64,446.38 L313.01,446.39 L315.39,446.40 L317.76,446.41 L320.13,446.42 L322.50,446.40" fill="none" stroke="#0000e6" stroke-width="2.4" stroke-linejoin="round"/>
<path d="M196,446.1 L205,446.4 H322.5" fill="none" stroke="#14147a" stroke-width="2.4" stroke-linecap="butt"/>
<line x1="246.5" y1="279.5" x2="280.5" y2="279.5" stroke="#808080" stroke-width="2.2"/>
<text x="286.6" y="284.20" font-size="12.4" textLength="17.4" lengthAdjust="spacingAndGlyphs">TiO</text>
<text x="304.40" y="290.50" font-size="7">2</text>
<line x1="246.5" y1="302.5" x2="280.5" y2="302.5" stroke="#000" stroke-width="2.2"/>
<text x="286.6" y="307.20" font-size="12.4" textLength="13.9" lengthAdjust="spacingAndGlyphs">CA</text>
<line x1="246.5" y1="320.3" x2="280.5" y2="320.3" stroke="#e00000" stroke-width="2.2"/>
<text x="286.6" y="325.00" font-size="12.4" textLength="13.5" lengthAdjust="spacingAndGlyphs">FA</text>
<line x1="246.5" y1="338" x2="280.5" y2="338" stroke="#0000e6" stroke-width="2.2"/>
<text x="286.6" y="342.70" font-size="12.4" textLength="13.9" lengthAdjust="spacingAndGlyphs">PA</text>
<path d="M423.9,263.4 H684.8 V446.5" fill="none" stroke="#222" stroke-width="1.4" stroke-linecap="square"/>
<path d="M423.9,263.4 V446.5 H684.8" fill="none" stroke="#000" stroke-width="1.5" stroke-linecap="square"/>
<path d="M423.90,446.5 v4 M456.51,446.5 v4 M489.12,446.5 v4 M521.74,446.5 v4 M554.35,446.5 v4 M586.96,446.5 v4 M619.58,446.5 v4 M652.19,446.5 v4 M684.80,446.5 v4 M440.21,446.5 v2.6 M472.82,446.5 v2.6 M505.43,446.5 v2.6 M538.04,446.5 v2.6 M570.66,446.5 v2.6 M603.27,446.5 v2.6 M635.88,446.5 v2.6 M668.49,446.5 v2.6 M423.9,445.50 h-3.8 M423.9,427.29 h-3.8 M423.9,409.08 h-3.8 M423.9,390.87 h-3.8 M423.9,372.66 h-3.8 M423.9,354.45 h-3.8 M423.9,336.24 h-3.8 M423.9,318.03 h-3.8 M423.9,299.82 h-3.8 M423.9,281.61 h-3.8 M423.9,263.40 h-3.8 M423.9,436.39 h-2.4 M423.9,418.19 h-2.4 M423.9,399.98 h-2.4 M423.9,381.76 h-2.4 M423.9,363.55 h-2.4 M423.9,345.34 h-2.4 M423.9,327.13 h-2.4 M423.9,308.92 h-2.4 M423.9,290.71 h-2.4 M423.9,272.50 h-2.4 " fill="none" stroke="#000" stroke-width="1.4"/>
<text x="417.60" y="448.80" font-size="12" text-anchor="end" >0</text>
<text x="417.60" y="430.59" font-size="12" text-anchor="end" >-20</text>
<text x="417.60" y="412.38" font-size="12" text-anchor="end" >-40</text>
<text x="417.60" y="394.17" font-size="12" text-anchor="end" >-60</text>
<text x="417.60" y="375.96" font-size="12" text-anchor="end" >-80</text>
<text x="417.60" y="357.75" font-size="12" text-anchor="end" >-100</text>
<text x="417.60" y="339.54" font-size="12" text-anchor="end" >-120</text>
<text x="417.60" y="321.33" font-size="12" text-anchor="end" >-140</text>
<text x="417.60" y="303.12" font-size="12" text-anchor="end" >-160</text>
<text x="417.60" y="284.91" font-size="12" text-anchor="end" >-180</text>
<text x="417.60" y="266.70" font-size="12" text-anchor="end" >-200</text>
<text x="423.90" y="462.60" font-size="12" text-anchor="middle" >0</text>
<text x="456.51" y="462.60" font-size="12" text-anchor="middle" >50</text>
<text x="489.12" y="462.60" font-size="12" text-anchor="middle" >100</text>
<text x="521.74" y="462.60" font-size="12" text-anchor="middle" >150</text>
<text x="554.35" y="462.60" font-size="12" text-anchor="middle" >200</text>
<text x="586.96" y="462.60" font-size="12" text-anchor="middle" >250</text>
<text x="619.58" y="462.60" font-size="12" text-anchor="middle" >300</text>
<text x="652.19" y="462.60" font-size="12" text-anchor="middle" >350</text>
<text x="684.80" y="462.60" font-size="12" text-anchor="middle" >400</text>
<text x="355.10" y="272.50" font-size="18" text-anchor="start" font-weight="bold" textLength="22.0" lengthAdjust="spacingAndGlyphs">(d)</text>
<text x="554.20" y="482.70" font-size="16" text-anchor="middle" font-weight="bold" >Z'</text>
<text transform="translate(384.2,361.0) rotate(-90)" font-size="16" font-weight="bold">Z"</text>
<circle cx="457.6" cy="283.6" r="2.2" fill="#808080"/>
<circle cx="448.9" cy="314.1" r="2.2" fill="#808080"/>
<circle cx="443.4" cy="339.3" r="2.2" fill="#808080"/>
<circle cx="439.5" cy="359.9" r="2.2" fill="#808080"/>
<circle cx="437.0" cy="376.9" r="2.2" fill="#808080"/>
<circle cx="435.2" cy="390.4" r="2.2" fill="#808080"/>
<circle cx="433.8" cy="401.0" r="2.2" fill="#808080"/>
<circle cx="433.2" cy="409.4" r="2.2" fill="#808080"/>
<circle cx="432.9" cy="416.0" r="2.2" fill="#808080"/>
<circle cx="432.7" cy="421.0" r="2.2" fill="#808080"/>
<circle cx="432.6" cy="426.0" r="2.2" fill="#808080"/>
<circle cx="432.5" cy="431.0" r="2.2" fill="#808080"/>
<circle cx="522.9" cy="440.8" r="2.2" fill="#000"/>
<circle cx="523.0" cy="437.1" r="2.2" fill="#000"/>
<circle cx="522.7" cy="433.3" r="2.2" fill="#000"/>
<circle cx="521.9" cy="429.1" r="2.2" fill="#000"/>
<circle cx="521.0" cy="425.0" r="2.2" fill="#000"/>
<circle cx="519.7" cy="420.9" r="2.2" fill="#000"/>
<circle cx="517.5" cy="415.7" r="2.2" fill="#000"/>
<circle cx="515.1" cy="410.5" r="2.2" fill="#000"/>
<circle cx="511.4" cy="404.2" r="2.2" fill="#000"/>
<circle cx="506.7" cy="398.6" r="2.2" fill="#000"/>
<circle cx="500.2" cy="392.5" r="2.2" fill="#000"/>
<circle cx="492.2" cy="387.8" r="2.2" fill="#000"/>
<circle cx="482.7" cy="384.8" r="2.2" fill="#000"/>
<circle cx="473.4" cy="384.8" r="2.2" fill="#000"/>
<circle cx="464.5" cy="387.4" r="2.2" fill="#000"/>
<circle cx="456.4" cy="392.3" r="2.2" fill="#000"/>
<circle cx="449.6" cy="398.0" r="2.2" fill="#000"/>
<circle cx="444.6" cy="404.8" r="2.2" fill="#000"/>
<circle cx="441.0" cy="410.7" r="2.2" fill="#000"/>
<circle cx="438.4" cy="416.6" r="2.2" fill="#000"/>
<circle cx="436.4" cy="423.0" r="2.2" fill="#000"/>
<circle cx="435.2" cy="426.3" r="2.2" fill="#000"/>
<circle cx="433.8" cy="429.5" r="2.2" fill="#000"/>
<circle cx="433.2" cy="433.0" r="2.2" fill="#000"/>
<circle cx="432.9" cy="436.5" r="2.2" fill="#000"/>
<circle cx="432.7" cy="440.0" r="2.2" fill="#000"/>
<circle cx="432.4" cy="443.0" r="2.2" fill="#000"/>
<circle cx="555.4" cy="437.1" r="2.2" fill="#e00000"/>
<circle cx="553.7" cy="433.3" r="2.2" fill="#e00000"/>
<circle cx="551.8" cy="429.6" r="2.2" fill="#e00000"/>
<circle cx="550.3" cy="425.9" r="2.2" fill="#e00000"/>
<circle cx="549.0" cy="421.3" r="2.2" fill="#e00000"/>
<circle cx="547.6" cy="416.6" r="2.2" fill="#e00000"/>
<circle cx="545.1" cy="411.1" r="2.2" fill="#e00000"/>
<circle cx="542.4" cy="404.9" r="2.2" fill="#e00000"/>
<circle cx="538.3" cy="398.1" r="2.2" fill="#e00000"/>
<circle cx="532.3" cy="389.7" r="2.2" fill="#e00000"/>
<circle cx="525.3" cy="381.9" r="2.2" fill="#e00000"/>
<circle cx="516.4" cy="374.3" r="2.2" fill="#e00000"/>
<circle cx="505.2" cy="369.3" r="2.2" fill="#e00000"/>
<circle cx="493.2" cy="366.8" r="2.2" fill="#e00000"/>
<circle cx="481.0" cy="367.8" r="2.2" fill="#e00000"/>
<circle cx="469.3" cy="372.3" r="2.2" fill="#e00000"/>
<circle cx="459.3" cy="378.9" r="2.2" fill="#e00000"/>
<circle cx="451.3" cy="387.3" r="2.2" fill="#e00000"/>
<circle cx="445.1" cy="395.8" r="2.2" fill="#e00000"/>
<circle cx="441.0" cy="403.8" r="2.2" fill="#e00000"/>
<circle cx="438.4" cy="410.7" r="2.2" fill="#e00000"/>
<circle cx="436.7" cy="416.8" r="2.2" fill="#e00000"/>
<circle cx="435.4" cy="422.3" r="2.2" fill="#e00000"/>
<circle cx="434.2" cy="425.8" r="2.2" fill="#e00000"/>
<circle cx="433.3" cy="429.0" r="2.2" fill="#e00000"/>
<circle cx="432.9" cy="432.5" r="2.2" fill="#e00000"/>
<circle cx="432.7" cy="436.0" r="2.2" fill="#e00000"/>
<circle cx="432.5" cy="439.5" r="2.2" fill="#e00000"/>
<circle cx="432.2" cy="442.5" r="2.2" fill="#e00000"/>
<circle cx="657.0" cy="423.8" r="2.2" fill="#0000e6"/>
<circle cx="655.6" cy="421.8" r="2.2" fill="#0000e6"/>
<circle cx="652.9" cy="416.8" r="2.2" fill="#0000e6"/>
<circle cx="651.1" cy="413.2" r="2.2" fill="#0000e6"/>
<circle cx="649.1" cy="407.6" r="2.2" fill="#0000e6"/>
<circle cx="646.3" cy="401.1" r="2.2" fill="#0000e6"/>
<circle cx="643.2" cy="392.9" r="2.2" fill="#0000e6"/>
<circle cx="639.1" cy="382.9" r="2.2" fill="#0000e6"/>
<circle cx="633.3" cy="371.4" r="2.2" fill="#0000e6"/>
<circle cx="627.2" cy="357.6" r="2.2" fill="#0000e6"/>
<circle cx="616.7" cy="343.9" r="2.2" fill="#0000e6"/>
<circle cx="603.6" cy="329.3" r="2.2" fill="#0000e6"/>
<circle cx="586.7" cy="316.4" r="2.2" fill="#0000e6"/>
<circle cx="566.3" cy="306.1" r="2.2" fill="#0000e6"/>
<circle cx="544.5" cy="301.5" r="2.2" fill="#0000e6"/>
<circle cx="522.1" cy="303.6" r="2.2" fill="#0000e6"/>
<circle cx="501.1" cy="311.3" r="2.2" fill="#0000e6"/>
<circle cx="482.4" cy="323.6" r="2.2" fill="#0000e6"/>
<circle cx="467.8" cy="339.0" r="2.2" fill="#0000e6"/>
<circle cx="456.8" cy="354.3" r="2.2" fill="#0000e6"/>
<circle cx="448.9" cy="369.2" r="2.2" fill="#0000e6"/>
<circle cx="443.1" cy="382.7" r="2.2" fill="#0000e6"/>
<circle cx="439.3" cy="394.1" r="2.2" fill="#0000e6"/>
<circle cx="436.4" cy="403.8" r="2.2" fill="#0000e6"/>
<circle cx="434.9" cy="411.4" r="2.2" fill="#0000e6"/>
<circle cx="433.4" cy="417.8" r="2.2" fill="#0000e6"/>
<circle cx="432.7" cy="423.3" r="2.2" fill="#0000e6"/>
<circle cx="432.5" cy="426.0" r="2.2" fill="#0000e6"/>
<circle cx="432.4" cy="428.5" r="2.2" fill="#0000e6"/>
<circle cx="432.3" cy="431.0" r="2.2" fill="#0000e6"/>
<circle cx="432.2" cy="433.5" r="2.2" fill="#0000e6"/>
<circle cx="432.1" cy="436.0" r="2.2" fill="#0000e6"/>
<circle cx="432.0" cy="438.5" r="2.2" fill="#0000e6"/>
<circle cx="431.8" cy="441.0" r="2.2" fill="#0000e6"/>
<circle cx="431.3" cy="443.0" r="2.2" fill="#0000e6"/>
<circle cx="430.2" cy="444.4" r="2.2" fill="#0000e6"/>
<circle cx="429.0" cy="445.1" r="2.2" fill="#0000e6"/>
<circle cx="428.2" cy="445.4" r="2.2" fill="#0000e6"/>
<circle cx="637.5" cy="276.3" r="2.2" fill="#808080"/>
<text x="657.2" y="281.00" font-size="12.4" textLength="17.4" lengthAdjust="spacingAndGlyphs">TiO</text>
<text x="675.00" y="287.30" font-size="7">2</text>
<circle cx="637.5" cy="299.2" r="2.2" fill="#000"/>
<text x="657.2" y="303.90" font-size="12.4" textLength="13.9" lengthAdjust="spacingAndGlyphs">CA</text>
<circle cx="637.5" cy="317.2" r="2.2" fill="#e00000"/>
<text x="657.2" y="321.90" font-size="12.4" textLength="13.5" lengthAdjust="spacingAndGlyphs">FA</text>
<circle cx="637.5" cy="335.2" r="2.2" fill="#0000e6"/>
<text x="657.2" y="339.90" font-size="12.4" textLength="13.9" lengthAdjust="spacingAndGlyphs">PA</text>
</svg></body></html>
